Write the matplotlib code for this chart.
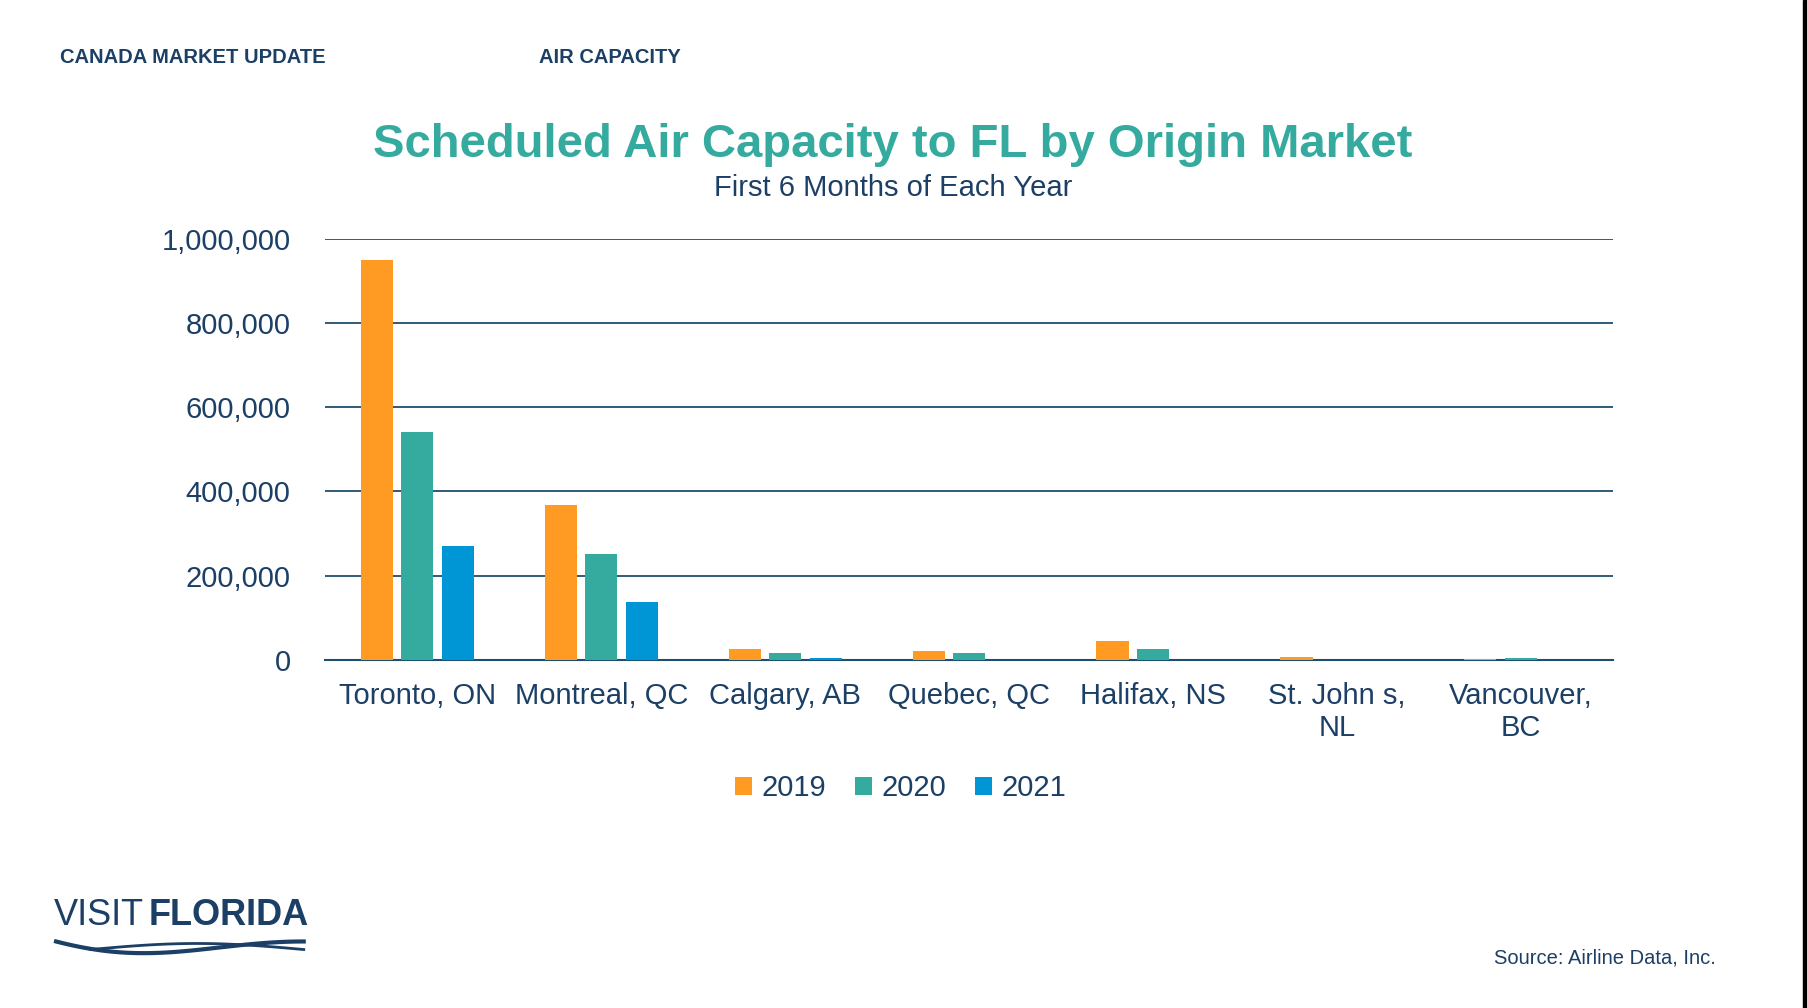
import numpy as np
import matplotlib.pyplot as plt

plt.rcParams['font.family'] = ['Liberation Sans', 'DejaVu Sans']

markets = ["Toronto, ON", "Montreal, QC", "Calgary, AB", "Quebec, QC",
           "Halifax, NS", "St. John s,\nNL", "Vancouver,\nBC"]
years = ["2019", "2020", "2021"]
cap_2019 = [950000, 368000, 25000, 20000, 44000, 7000, 2000]
cap_2020 = [540000, 252000, 15000, 17000, 25000, 0, 4000]
cap_2021 = [270000, 138000, 4000, 0, 0, 0, 0]
colors = ["#FF9A22", "#35AA9E", "#0096D6"]

navy = "#1C3F66"
fig = plt.figure(figsize=(18.08, 10.08), dpi=100)
ax = fig.add_axes([0.180, 0.3455, 0.712, 0.4175])

x = np.arange(len(markets))
w = 0.175
for k, (vals, yr) in enumerate(zip([cap_2019, cap_2020, cap_2021], years)):
    ax.bar(x + (k - 1) * 0.22, vals, w, color=colors[k], label=yr, zorder=3)

ax.set_xlim(-0.5, len(markets) - 0.5)
ax.set_ylim(0, 1000000)
ax.set_yticks(np.arange(0, 1000001, 200000))
ax.yaxis.set_major_formatter(plt.FuncFormatter(lambda v, p: f"{int(v):,}"))
ax.grid(axis="y", color="#1F4E6E", lw=1.3, zorder=0)
ax.set_xticks(x)
ax.set_xticklabels(markets, fontsize=21, color=navy, linespacing=1.2)
ax.tick_params(axis="y", labelsize=21, labelcolor=navy, length=0, pad=25)
ax.tick_params(axis="x", length=0, pad=16)
for s in ["top", "right", "left"]:
    ax.spines[s].set_visible(False)
ax.spines["bottom"].set_color("#1F4E6E")
ax.spines["bottom"].set_linewidth(1.5)

ax.legend(loc="center", bbox_to_anchor=(0.498, 0.218), bbox_transform=fig.transFigure,
          ncol=3, frameon=False, fontsize=21, handlelength=0.6, handleheight=0.6,
          handletextpad=0.3, columnspacing=1.0, labelcolor=navy)

fig.text(0.033, 0.943, "CANADA MARKET UPDATE", fontsize=14.5, fontweight="bold", color=navy, va="center")
fig.text(0.298, 0.943, "AIR CAPACITY", fontsize=14.5, fontweight="bold", color=navy, va="center")
fig.text(0.494, 0.856, "Scheduled Air Capacity to FL by Origin Market", fontsize=34,
         fontweight="bold", color="#35AA9E", ha="center", va="center")
fig.text(0.494, 0.813, "First 6 Months of Each Year", fontsize=21, color=navy, ha="center", va="center")
fig.text(0.949, 0.05, "Source: Airline Data, Inc.", fontsize=14.5, color=navy, ha="right", va="center")

# logo
fig.text(0.030, 0.092, "VISIT", fontsize=26, color=navy, va="center")
fig.text(0.082, 0.092, "FLORIDA", fontsize=26, fontweight="bold", color=navy, va="center")
t = np.linspace(0, 1, 100)
fig.add_artist(plt.Line2D(0.031 + 0.137 * t, 0.066 - 0.010 * np.sin(np.pi * t) * (1 - t) * 2,
                          color=navy, lw=3, transform=fig.transFigure))
fig.add_artist(plt.Line2D(0.05 + 0.118 * t, 0.058 + 0.006 * np.sin(np.pi * t),
                          color=navy, lw=2, transform=fig.transFigure))

# right edge dark strip
fig.add_artist(plt.Rectangle((0.9975, 0), 0.0025, 1, color="black", transform=fig.transFigure))

fig.savefig("out.png", dpi=100)
